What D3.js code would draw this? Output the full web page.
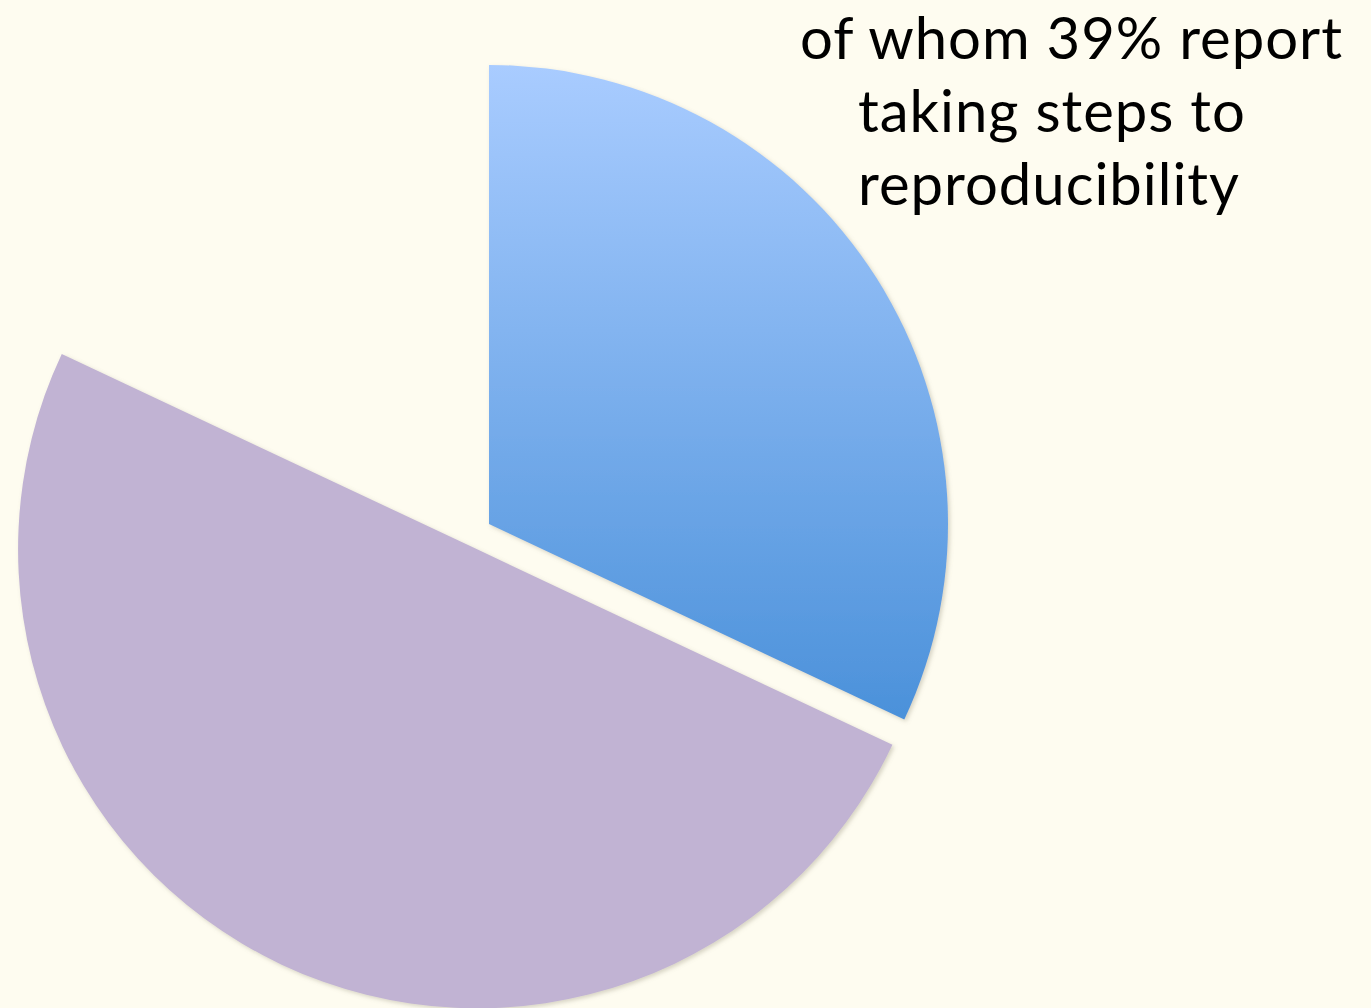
<!DOCTYPE html>
<html>
<head>
<meta charset="utf-8">
<script src="https://cdn.jsdelivr.net/npm/d3@7"></script>
<style>
  body { margin: 0; background: #FEFCF0; }
  svg { display: block; }
</style>
</head>
<body>
<script>
// DATA
let categories = ["take steps", "do not", "other"];
let values = [32, 50, 18];
let explode = [0, 28, 0];          // offset of each slice from the centre
let labelLines = ["of whom 39% report", "taking steps to", "reproducibility"];

// LAYOUT
let width = 1371;
let height = 1008;
let cx = 489, cy = 524;
let radius = 459;

let svg = d3.select("body").append("svg")
    .attr("width", width)
    .attr("height", height);

let defs = svg.append("defs");

let grad = defs.append("linearGradient")
    .attr("id", "blueGrad")
    .attr("x1", 0).attr("y1", 0).attr("x2", 0).attr("y2", 1);
grad.append("stop").attr("offset", "0%").attr("stop-color", "#A9CCFF");
grad.append("stop").attr("offset", "100%").attr("stop-color", "#4B91DA");

let shadow = defs.append("filter").attr("id", "shadow")
    .attr("x", "-10%").attr("y", "-10%").attr("width", "120%").attr("height", "120%");
shadow.append("feDropShadow")
    .attr("dx", 2).attr("dy", 2).attr("stdDeviation", 2)
    .attr("flood-color", "#8a8470").attr("flood-opacity", 0.35);

let fills = ["url(#blueGrad)", "#C1B3D3", "none"];

let pie = d3.pie().sort(null).value(d => d)(values);
let arc = d3.arc().innerRadius(0).outerRadius(radius);

let slices = svg.append("g")
    .attr("transform", "translate(" + cx + "," + cy + ")");

slices.selectAll("path")
    .data(pie)
    .join("path")
    .attr("d", arc)
    .attr("fill", (d, i) => fills[i])
    .attr("filter", (d, i) => fills[i] == "none" ? null : "url(#shadow)")
    .attr("transform", (d, i) => {
        let mid = (d.startAngle + d.endAngle) / 2;
        let dx = Math.sin(mid) * explode[i];
        let dy = -Math.cos(mid) * explode[i];
        return "translate(" + dx + "," + dy + ")";
    });

// TEXT
let lineX = [800, 858, 858];
let lineY = [59, 132, 205];

svg.append("g").selectAll("text")
    .data(labelLines)
    .join("text")
    .attr("x", (d, i) => lineX[i])
    .attr("y", (d, i) => lineY[i])
    .attr("font-family", "Lato, 'Open Sans', sans-serif")
    .attr("font-size", 58)
    .attr("letter-spacing", 1)
    .attr("fill", "#000")
    .text(d => d);
</script>
</body>
</html>
